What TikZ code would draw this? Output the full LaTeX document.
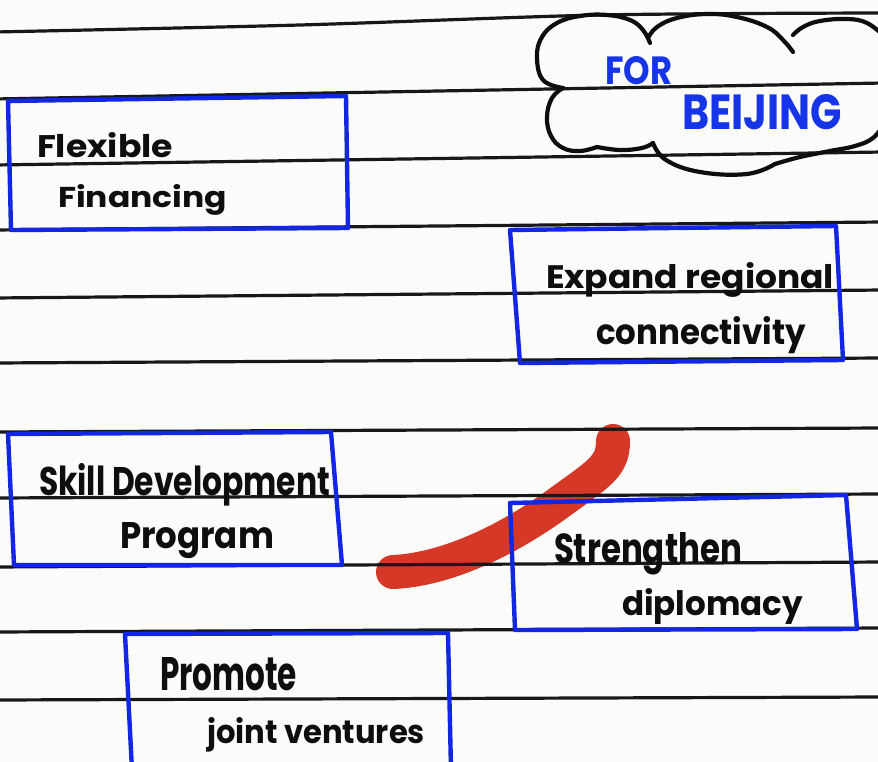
\documentclass[tikz,border=0pt]{standalone}
\usepackage{fontspec}
\setmainfont{Poppins}
\usepackage{graphicx}
\definecolor{paper}{RGB}{251,251,249}
\definecolor{rule}{RGB}{24,24,24}
\definecolor{penblue}{RGB}{18,38,228}
\definecolor{inkblue}{RGB}{22,52,232}
\definecolor{marker}{RGB}{214,56,40}
\definecolor{ink}{RGB}{14,14,14}
\tikzset{
  ruleline/.style={draw=rule, line width=3.2pt, line cap=round},
  bluebox/.style={draw=penblue, line width=4.4pt, line join=round, line cap=round},
  cloudline/.style={draw=ink, line width=4.2pt, line cap=round, line join=round},
  txt/.style={inner sep=0pt, outer sep=0pt, anchor=base west, text=ink, font=\bfseries},
  bluetxt/.style={txt, text=inkblue},
  markerstroke/.style={draw=marker, line width=34pt, line cap=round, line join=round}
}
\newcommand{\fit}[3]{\resizebox{#1pt}{#2pt}{#3}}
\begin{document}
\begin{tikzpicture}[x=1pt,y=-1pt]
\useasboundingbox (0,0) rectangle (878,762);
\fill[paper] (0,0) rectangle (878,762);

% red marker stroke (drawn under the ink, like a highlighter)
\draw[markerstroke] (393,572) .. controls (440,570) and (500,546) .. (560,502) .. controls (600,473) and (613,466) .. (613,441);

% ruled lines
\draw[ruleline] plot[smooth] coordinates {(-5,32) (300,25) (600,15) (883,13)};
\draw[ruleline] (-5,99) -- (883,83);
\draw[ruleline] (-5,165) -- (883,152);
\draw[ruleline] (-5,230) -- (883,222);
\draw[ruleline] (-5,298) -- (883,290);
\draw[ruleline] (-5,363) -- (883,358);
\draw[ruleline] (-5,432) -- (883,428);
\draw[ruleline] (-5,498) -- (883,494);
\draw[ruleline] (-5,567) -- (883,562);
\draw[ruleline] (-5,632) -- (883,628);
\draw[ruleline] (-5,700) -- (883,697);

% blue boxes
\draw[bluebox] (8,101) -- (346,96) -- (348,228) -- (11,230) -- cycle;
\draw[bluebox] (510,230) -- (836,226) -- (843,360) -- (520,363) -- cycle;
\draw[bluebox] (8,434) -- (331,432) -- (342,565) -- (14,565) -- cycle;
\draw[bluebox] (510,503) -- (846,495) -- (857,629) -- (515,630) -- cycle;
\draw[bluebox] (132,770) -- (125,634) -- (448,633) -- (451,770);

% cloud
\draw[cloudline] plot[smooth, tension=0.7] coordinates {(563,88) (543,80) (537,57) (542,37) (557,23) (580,16) (607,15) (630,20) (643,30) (650,43)};
\draw[cloudline] plot[smooth, tension=0.7] coordinates {(648,38) (657,27) (677,18) (707,14) (737,17) (767,27) (783,40) (793,52)};
\draw[cloudline] plot[smooth, tension=0.7] coordinates {(793,35) (803,27) (820,21) (847,19) (867,23) (884,36)};
\draw[cloudline] plot[smooth, tension=0.7] coordinates {(563,88) (552,98) (547,117) (551,136) (563,148) (580,151) (597,147)};
\draw[cloudline] plot[smooth, tension=0.7] coordinates {(597,147) (620,150) (642,148) (653,143)};
\draw[cloudline] plot[smooth, tension=0.7] coordinates {(653,143) (666,160) (700,172) (747,174) (775,164)};
\draw[cloudline] plot[smooth, tension=0.7] coordinates {(775,164) (800,157) (830,151) (855,146) (873,138) (884,124)};

% texts
\node[txt] (flex) at (37,158) {\fit{136}{25}{Flexible}};
\node[txt] (fin) at (58,208) {\fit{169}{23}{Financing}};
\node[txt] (expand) at (546,288) {\fit{288}{26}{Expand regional}};
\node[txt] (conn) at (596,344) {\fit{210}{28}{connectivity}};
\node[txt] (skill) at (39,495) {\fit{291}{32}{Skill Development}};
\node[txt] (prog) at (120,548) {\fit{154}{26}{Program}};
\node[txt] (stren) at (554,563) {\fit{188}{31}{Strengthen}};
\node[txt] (dipl) at (622,615) {\fit{181}{27}{diplomacy}};
\node[txt] (prom) at (160,690) {\fit{137}{33}{Promote}};
\node[txt] (joint) at (207,743) {\fit{218}{26}{joint ventures}};
\node[bluetxt] (for) at (605,85) {\fit{67}{28}{FOR}};
\node[bluetxt] (beijing) at (682,130) {\fit{160}{35}{BEIJING}};
\end{tikzpicture}
\end{document}
